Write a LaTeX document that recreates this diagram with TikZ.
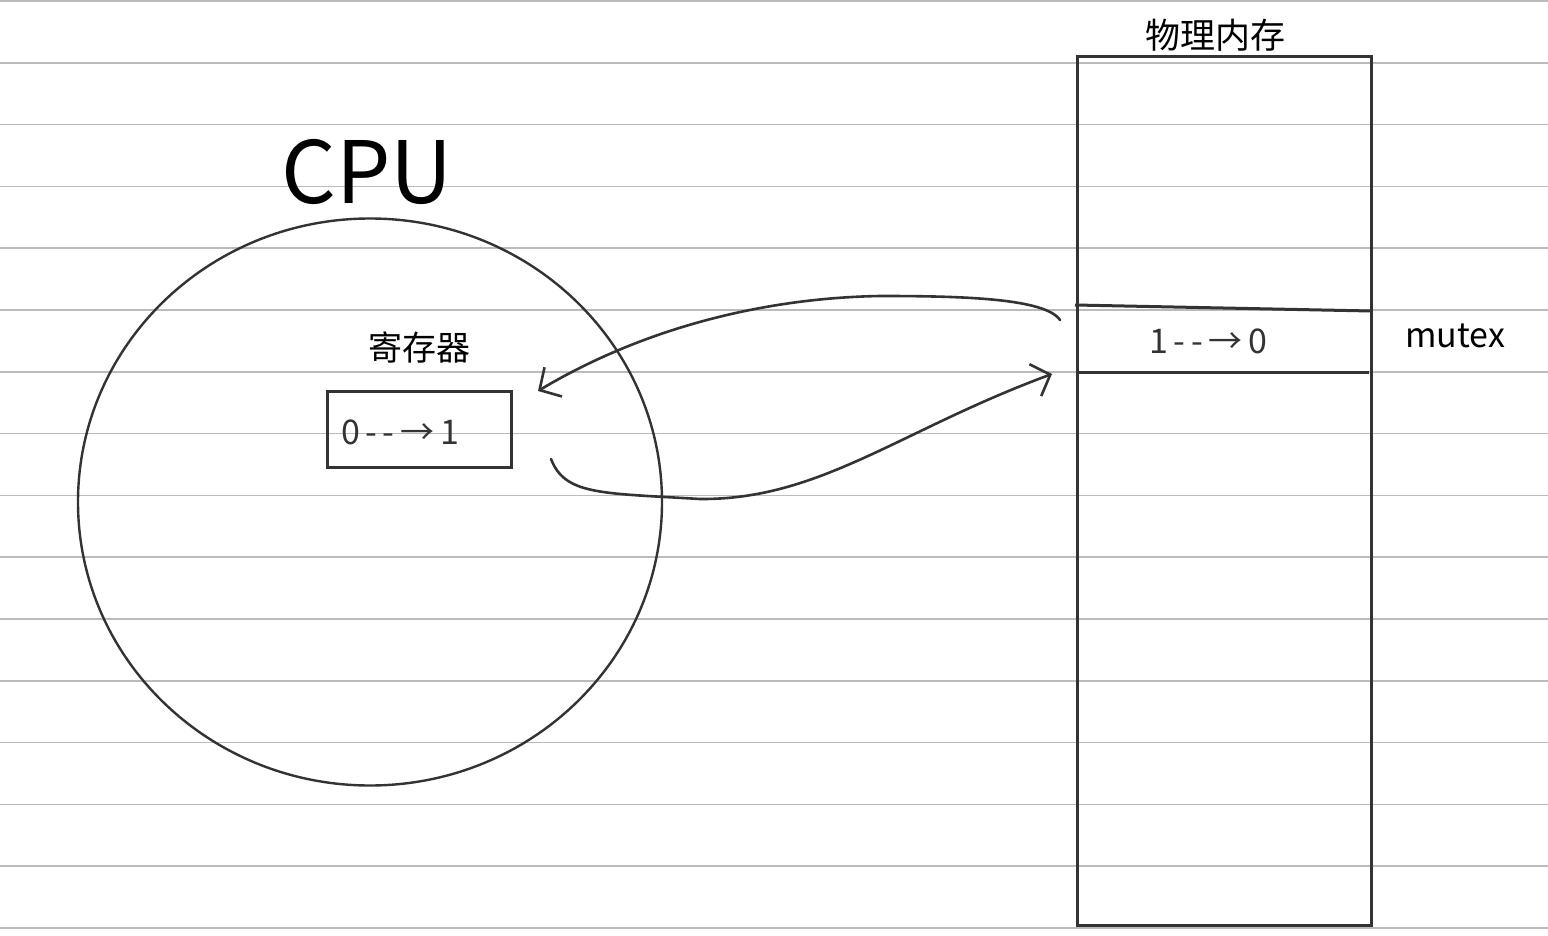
\documentclass[tikz,border=0pt]{standalone}
\usepackage{fontspec}
\setmainfont{Noto Sans CJK SC}
\usetikzlibrary{shapes.geometric,arrows.meta}
\definecolor{ink}{HTML}{333333}
\definecolor{rulegray}{HTML}{BBBBBB}
\tikzset{
  rule/.style={draw=rulegray, line width=1.6pt},
  outline/.style={draw=ink, line width=2.4pt},
  thickbox/.style={draw=ink, line width=3pt},
  hand/.style={draw=ink, line width=2.6pt, line cap=round, line join=round},
  handtip/.style={-{Straight Barb[length=16pt, width=34pt, line width=2.6pt]}},
  label/.style={text=black, inner sep=0pt},
  handtext/.style={text=ink, inner sep=0pt, font=\fontsize{34pt}{38pt}\selectfont},
}
\begin{document}
\begin{tikzpicture}[x=1pt,y=-1pt]
\useasboundingbox (0,0) rectangle (1548,936);
\fill[white] (0,0) rectangle (1548,936);
\foreach \i in {0,...,15} \draw[rule] (0,{1+61.8*\i}) -- (1548,{1+61.8*\i});
% CPU
\node[outline, ellipse, inner sep=0pt, minimum width=584pt, minimum height=567pt] (cpu) at (370,502) {};
\node[label, font=\fontsize{86pt}{90pt}\selectfont] (cputitle) at (367,172) {CPU};
\node[label, font=\fontsize{34pt}{38pt}\selectfont] (reglabel) at (419,347) {寄存器};
\node[thickbox, minimum width=184pt, minimum height=76pt, inner sep=0pt] (reg) at (419,429) {};
\node[handtext] (regval) at (400,432) {0\,-{}\,-{}\,→\,1};
% memory
\node[thickbox, minimum width=294pt, minimum height=868pt, inner sep=0pt] (mem) at (1224,491) {};
\node[label, font=\fontsize{35pt}{39pt}\selectfont] (memlabel) at (1215,35) {物理内存};
\coordinate (celltl) at (1075,305);
\coordinate (celltr) at (1371,311);
\coordinate (cellbl) at (1077,372);
\coordinate (cellbr) at (1369,372);
\draw[thickbox] (celltl) -- (celltr);
\draw[thickbox] (cellbl) -- (cellbr);
\node[handtext] (cell) at (1208,341) {1\,-{}\,-{}\,→\,0};
\node[label, font=\fontsize{34pt}{38pt}\selectfont] (mutex) at (1455,336) {mutex};
% arrows
\coordinate (loadstart) at (1060,320);
\coordinate (loadmid) at (880,296);
\coordinate (loadend) at (538,391);
\coordinate (storestart) at (551,459);
\coordinate (storemid) at (700,499);
\coordinate (storeend) at (1052,374);
\draw[hand, handtip] (loadstart) .. controls (1045,298) and (960,296) .. (loadmid)
   .. controls (760,298) and (640,330) .. (loadend);
\draw[hand, handtip] (storestart) .. controls (565,495) and (600,493) .. (storemid)
   .. controls (820,500) and (900,430) .. (storeend);
\end{tikzpicture}
\end{document}
